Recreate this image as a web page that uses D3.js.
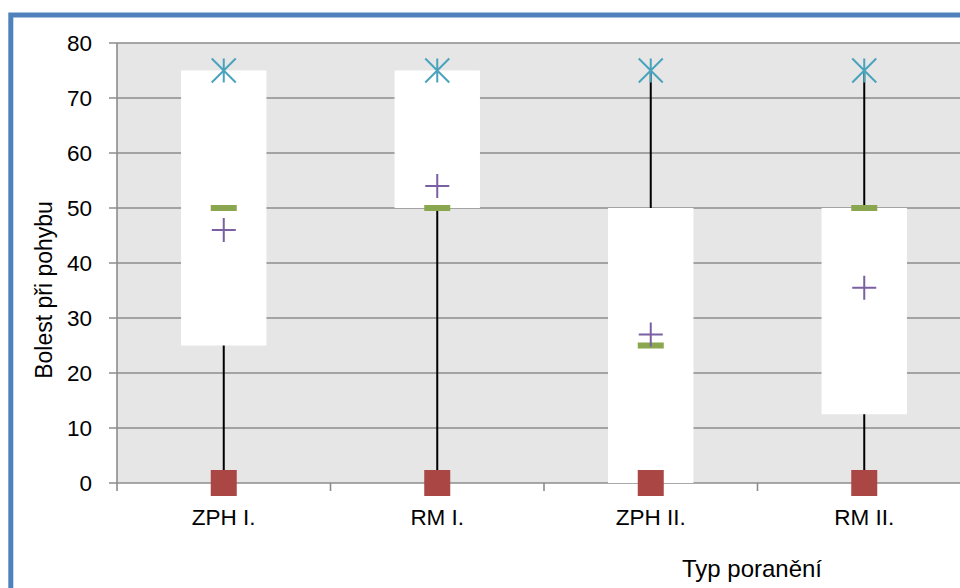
<!DOCTYPE html>
<html>
<head>
<meta charset="utf-8">
<script src="https://cdn.jsdelivr.net/npm/d3@7"></script>
<style>
  html, body { margin: 0; padding: 0; background: #fff; overflow: hidden; }
  svg { display: block; font-family: "Liberation Sans", Arial, sans-serif; }
</style>
</head>
<body>
<div id="chart"></div>
<script>
// box plot values
const categories = ["ZPH I.", "RM I.", "ZPH II.", "RM II."];
const minVals = [0, 0, 0, 0];
const q1Vals = [25, 50, 0, 12.5];
const medianVals = [50, 50, 25, 50];
const q3Vals = [75, 75, 50, 50];
const maxVals = [75, 75, 75, 75];
const meanVals = [46, 54, 27, 35.5];
const yTicks = [0, 10, 20, 30, 40, 50, 60, 70, 80];

const W = 960, H = 588;
const plotLeft = 117, plotTop = 43, plotBottom = 483, bandW = 213.5;

const data = categories.map((c, i) => ({
  cat: c, min: minVals[i], q1: q1Vals[i], med: medianVals[i],
  q3: q3Vals[i], max: maxVals[i], mean: meanVals[i]
}));

const svg = d3.select('#chart').append('svg')
  .attr('width', W).attr('height', H);

const x = d3.scaleBand().domain(categories)
  .range([plotLeft, plotLeft + bandW * categories.length]);
const y = d3.scaleLinear().domain([0, 80]).range([plotBottom, plotTop]);

const gridCol = '#8c8c8c';

// blue chart frame (continues past the window on the right and bottom)
svg.append('rect')
  .attr('x', 10.8).attr('y', 15)
  .attr('width', 2000).attr('height', 2000)
  .attr('fill', 'none').attr('stroke', '#4f81bd').attr('stroke-width', 5);

// plot area
svg.append('rect')
  .attr('x', plotLeft).attr('y', plotTop)
  .attr('width', W - plotLeft + 20).attr('height', plotBottom - plotTop)
  .attr('fill', '#e6e6e6');

// horizontal gridlines incl. outer tick
svg.append('g').selectAll('line')
  .data(yTicks)
  .join('line')
  .attr('x1', plotLeft - 8).attr('x2', W + 20)
  .attr('y1', d => y(d)).attr('y2', d => y(d))
  .attr('stroke', gridCol).attr('stroke-width', 1.6);

// y axis line
svg.append('line')
  .attr('x1', plotLeft).attr('x2', plotLeft)
  .attr('y1', plotTop).attr('y2', plotBottom + 8)
  .attr('stroke', gridCol).attr('stroke-width', 1.6);

// x axis ticks between categories
svg.append('g').selectAll('line')
  .data(categories.slice(1))
  .join('line')
  .attr('x1', d => x(d)).attr('x2', d => x(d))
  .attr('y1', plotBottom).attr('y2', plotBottom + 8)
  .attr('stroke', gridCol).attr('stroke-width', 1.6);

// y tick labels
svg.append('g').selectAll('text')
  .data(yTicks)
  .join('text')
  .attr('x', 92).attr('y', d => y(d)).attr('dy', '0.36em')
  .attr('text-anchor', 'end')
  .attr('font-size', 22.5).attr('fill', '#000')
  .text(d => d);

// category labels
svg.append('g').selectAll('text')
  .data(categories)
  .join('text')
  .attr('x', d => x(d) + x.bandwidth() / 2).attr('y', 525)
  .attr('text-anchor', 'middle')
  .attr('font-size', 22.5).attr('fill', '#000')
  .text(d => d);

// axis titles
svg.append('text')
  .attr('x', 752).attr('y', 577)
  .attr('text-anchor', 'middle').attr('font-size', 24)
  .text('Typ poranění');

svg.append('text')
  .attr('transform', 'translate(51.5,290) rotate(-90)')
  .attr('text-anchor', 'middle').attr('font-size', 23)
  .text('Bolest při pohybu');

const cx = d => x(d.cat) + x.bandwidth() / 2;
const boxW = x.bandwidth() * 0.4;

const g = svg.append('g');

// whiskers (min to max), boxes cover the middle part
g.selectAll('.whisker')
  .data(data)
  .join('line')
  .attr('class', 'whisker')
  .attr('x1', cx).attr('x2', cx)
  .attr('y1', d => y(d.min)).attr('y2', d => y(d.max))
  .attr('stroke', '#000').attr('stroke-width', 2);

g.selectAll('.box')
  .data(data)
  .join('rect')
  .attr('class', 'box')
  .attr('x', d => cx(d) - boxW / 2)
  .attr('y', d => y(d.q3))
  .attr('width', boxW)
  .attr('height', d => y(d.q1) - y(d.q3))
  .attr('fill', '#fff');

// median marker
g.selectAll('.median')
  .data(data)
  .join('rect')
  .attr('class', 'median')
  .attr('x', d => cx(d) - 13).attr('y', d => y(d.med) - 3)
  .attr('width', 26).attr('height', 6)
  .attr('fill', '#8aa64e');

// mean marker (+)
g.selectAll('.mean')
  .data(data)
  .join('path')
  .attr('class', 'mean')
  .attr('d', d => {
    const px = cx(d), py = y(d.mean);
    return `M${px - 12},${py}H${px + 12}M${px},${py - 12}V${py + 12}`;
  })
  .attr('stroke', '#7b5fa3').attr('stroke-width', 2).attr('fill', 'none');

// max marker (asterisk)
g.selectAll('.max')
  .data(data)
  .join('path')
  .attr('class', 'max')
  .attr('d', d => {
    const px = cx(d), py = y(d.max), s = 12;
    return `M${px - s},${py - s}L${px + s},${py + s}M${px - s},${py + s}L${px + s},${py - s}M${px},${py - s}V${py + s}`;
  })
  .attr('stroke', '#4aa3bd').attr('stroke-width', 2).attr('fill', 'none');

// min marker (square)
g.selectAll('.min')
  .data(data)
  .join('rect')
  .attr('class', 'min')
  .attr('x', d => cx(d) - 13).attr('y', d => y(d.min) - 13)
  .attr('width', 26).attr('height', 26)
  .attr('fill', '#aa4643');
</script>
</body>
</html>
